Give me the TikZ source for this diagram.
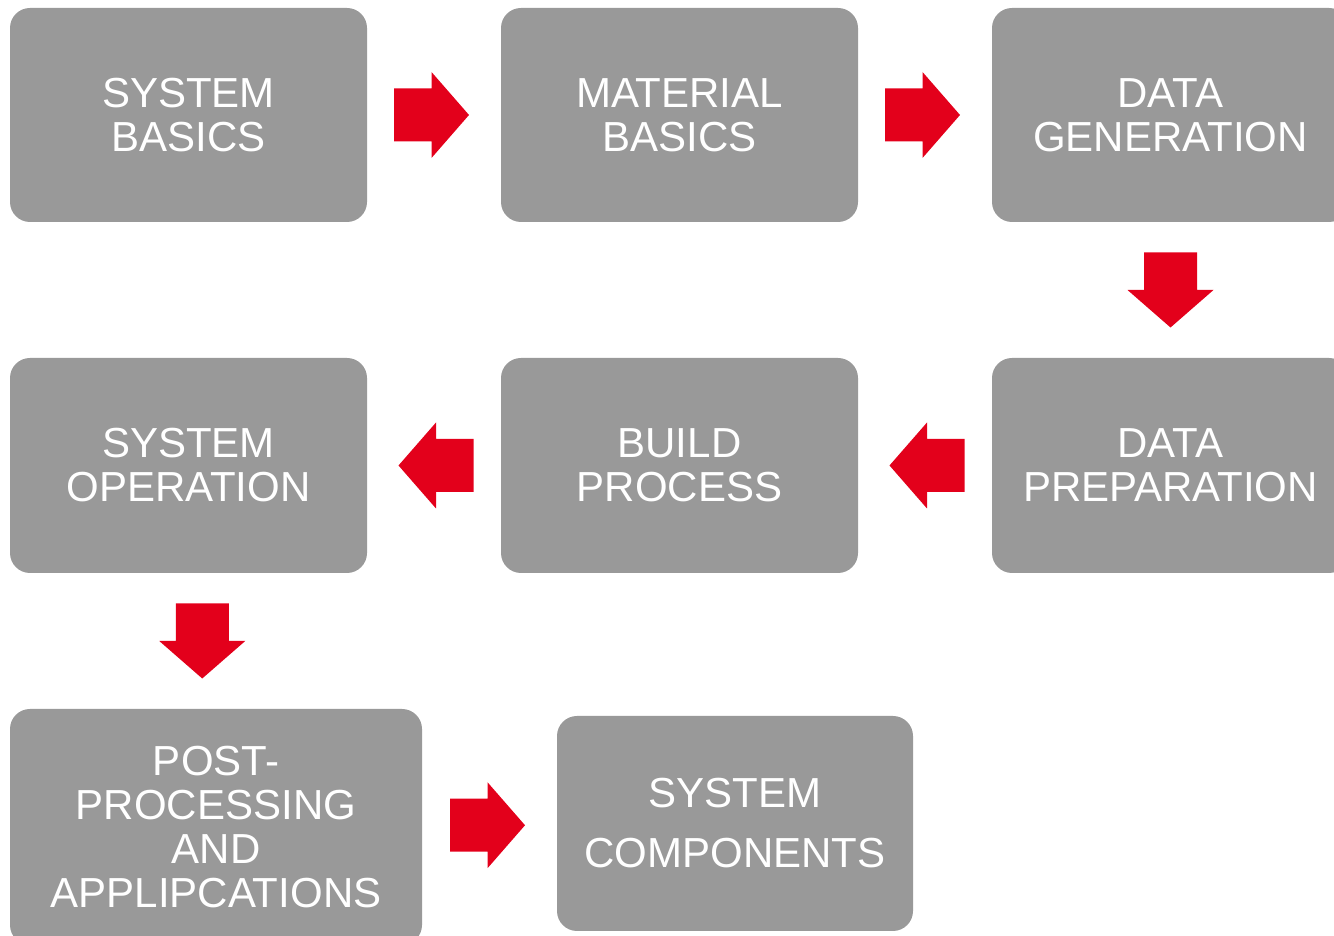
\documentclass[tikz,border=0pt]{standalone}
\usepackage{fontspec}
\setmainfont{Liberation Sans}
\usetikzlibrary{calc}
\definecolor{boxgray}{HTML}{999999}
\definecolor{arrowred}{HTML}{E3001B}
\tikzset{
  stepbox/.style={rectangle, rounded corners=20pt, fill=boxgray, text=white,
    align=center, inner sep=0pt, minimum width=357pt, minimum height=214pt,
    font=\fontsize{42}{44}\selectfont},
  blockarrow/.pic={\fill[arrowred] (-37.5,26.5) -- (0,26.5) -- (0,43) -- (37.5,0)
    -- (0,-43) -- (0,-26.5) -- (-37.5,-26.5) -- cycle;}
}
\begin{document}
\begin{tikzpicture}[x=1pt,y=1pt]
\useasboundingbox (0,0) rectangle (1334,936);
\clip (0,0) rectangle (1334,936);
\node[stepbox] (b1) at (188.5,821) {SYSTEM\\BASICS};
\node[stepbox] (b2) at (679.5,821) {MATERIAL\\BASICS};
\node[stepbox] (b3) at (1170.5,821) {DATA\\GENERATION};
\node[stepbox, minimum height=215pt] (b4) at (188.5,470.5) {SYSTEM\\OPERATION};
\node[stepbox, minimum height=215pt] (b5) at (679.5,470.5) {BUILD\\PROCESS};
\node[stepbox, minimum height=215pt] (b6) at (1170.5,470.5) {DATA\\PREPARATION};
\node[stepbox, minimum width=412pt, minimum height=236pt] (b7) at (216,109) {POST-\\PROCESSING\\AND\\APPLIPCATIONS};
\node[stepbox, minimum width=356pt, minimum height=215pt] (b8) at (735,112.5) {SYSTEM\\[16pt]COMPONENTS};
\pic[xshift=-2.5pt] at ($(b1.east)!0.5!(b2.west)$) {blockarrow};
\pic[xshift=-2.5pt] at ($(b2.east)!0.5!(b3.west)$) {blockarrow};
\pic[rotate=-90, yshift=0pt] at ($(b3.south)!0.5!(b6.north)$) {blockarrow};
\pic[rotate=180, xshift=-2pt] at ($(b6.west)!0.5!(b5.east)$) {blockarrow};
\pic[rotate=180, xshift=-2pt] at ($(b5.west)!0.5!(b4.east)$) {blockarrow};
\pic[rotate=-90] at ($(b4.south)!0.5!(b7.north)$) {blockarrow};
\pic[xshift=-2pt] at ($(b7.east)!0.5!(b8.west)$) {blockarrow};
\end{tikzpicture}
\end{document}
